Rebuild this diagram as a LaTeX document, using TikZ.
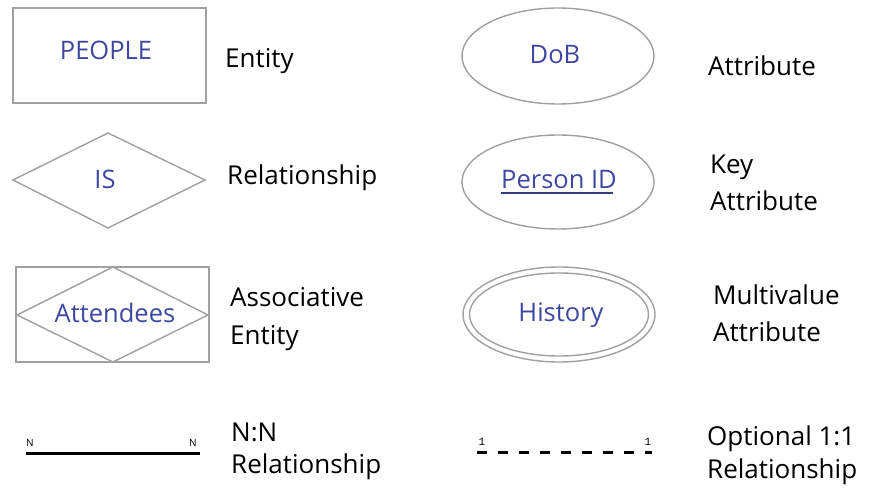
\documentclass[tikz,border=0pt]{standalone}
\usepackage{fontspec}
\setmainfont{Open Sans}
\newfontfamily\monofnt{Liberation Mono}
\usetikzlibrary{shapes.geometric}
\definecolor{erblue}{RGB}{62,72,160}
\definecolor{ergray}{RGB}{160,160,160}
\begin{document}
\begin{tikzpicture}[x=1bp,y=-1bp,
  shapeline/.style={draw=ergray,line width=1.4bp},
  bluetxt/.style={text=erblue,inner sep=0pt,anchor=base,font=\fontsize{25.5bp}{30bp}\selectfont},
  lbl/.style={text=black,inner sep=0pt,anchor=base west,font=\fontsize{26bp}{31bp}\selectfont},
  small/.style={inner sep=0pt,anchor=base,font=\fontsize{10bp}{11bp}\selectfont},
  smallmono/.style={inner sep=0pt,anchor=base,font=\monofnt\fontsize{11bp}{12bp}\selectfont},
  relline/.style={line width=3bp}]
\useasboundingbox (0,0) rectangle (880,492);
% Entity
\draw[shapeline] (13,8) rectangle (206,103);
\node[bluetxt] (people) at (106,60) {PEOPLE};
\node[lbl] (lentity) at (225,68) {Entity};
% Relationship
\draw[shapeline] (13,180) -- (108,133) -- (205,180) -- (108,228) -- cycle;
\node[bluetxt] (is) at (105,189) {IS};
\node[lbl] (lrel) at (227,185) {Relationship};
% Associative entity
\draw[shapeline] (16,267) rectangle (209,362);
\draw[shapeline] (17,315) -- (113,267) -- (208,315) -- (113,362) -- cycle;
\node[bluetxt] (att) at (115,323) {Attendees};
\node[lbl] (lassoc1) at (230,307) {Associative};
\node[lbl] (lassoc2) at (230,345) {Entity};
% N:N
\coordinate (nn1) at (26,453);
\coordinate (nn2) at (200,453);
\draw[relline] (nn1) -- (nn2);
\node[small] (n1) at (30,446) {N};
\node[small] (n2) at (193,446) {N};
\node[lbl] (lnn1) at (231,441) {N:N};
\node[lbl] (lnn2) at (231,473) {Relationship};
% Attribute
\draw[shapeline] (558,56) ellipse [x radius=96, y radius=48];
\node[bluetxt] (dob) at (555,64) {DoB};
\node[lbl] (lattr) at (708,76) {Attribute};
% Key attribute
\draw[shapeline] (558,182) ellipse [x radius=96, y radius=47];
\node[bluetxt] (pid) at (559,189) {Person ID};
\draw[draw=erblue!80!black,line width=1.2bp] ([yshift=-4bp]pid.base west) -- ([yshift=-4bp,xshift=-4bp]pid.base east);
\node[lbl] (lkey1) at (710,174) {Key};
\node[lbl] (lkey2) at (710,211) {Attribute};
% Multivalue attribute
\draw[shapeline] (559,314.5) ellipse [x radius=96, y radius=47.5];
\draw[shapeline] (559,314.5) ellipse [x radius=89.5, y radius=41.5];
\node[bluetxt] (hist) at (561,322) {History};
\node[lbl] (lmv1) at (713,305) {Multivalue};
\node[lbl] (lmv2) at (713,342) {Attribute};
% Optional 1:1
\coordinate (oo1) at (477,452);
\coordinate (oo2) at (652,452);
\draw[relline,dash pattern=on 10bp off 11bp] (oo1) -- (oo2);
\node[smallmono] (o1) at (482,445) {1};
\node[smallmono] (o2) at (648,445) {1};
\node[lbl] (lopt1) at (707,445) {Optional 1:1};
\node[lbl] (lopt2) at (707,478) {Relationship};
\end{tikzpicture}
\end{document}
